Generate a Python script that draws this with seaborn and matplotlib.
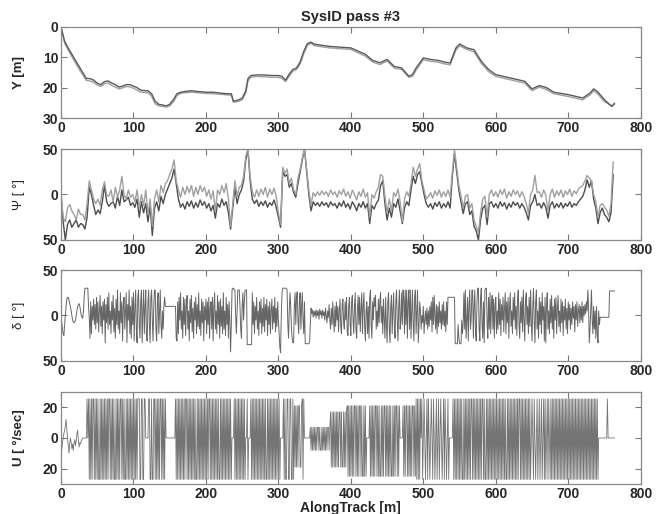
import numpy as np
import matplotlib
matplotlib.use("Agg")
import matplotlib.pyplot as plt
import seaborn as sns

# --- Y [m] : two tracks ---
y_x = [0, 5, 10, 15, 20, 25, 30, 35, 40, 45, 50, 55, 60, 65, 70, 75, 80, 85, 90, 95,
       100, 105, 110, 115, 120, 125, 130, 135, 140, 145, 150, 155, 160, 165, 170, 180, 190, 200, 210, 220,
       230, 235, 238, 245, 250, 255, 258, 262, 270, 280, 290, 300, 305, 310, 315, 320, 325, 330, 335, 340,
       345, 350, 371, 400, 420, 430, 440, 450, 460, 470, 480, 485, 490, 500, 510, 520, 530, 537, 545, 550,
       560, 570, 580, 590, 600, 620, 640, 650, 660, 670, 680, 700, 720, 730, 735, 740, 750, 760, 764]
y_a = [0, 4.7, 7, 9, 11, 13, 15, 17, 17, 17.5, 18.5, 19, 18, 17.8, 18.5, 19, 19.8, 19.5, 19, 19,
       19.5, 20, 20.8, 21, 21, 22, 24.5, 25.5, 25.7, 26, 25.5, 24, 22, 21.5, 21.3, 21, 21.3, 21.5, 21.5, 21.8,
       22, 22, 24.5, 24, 23.5, 21, 17, 16, 15.8, 15.8, 16, 16, 16.3, 17.5, 15.5, 14, 13.5, 11.5, 8, 5.5,
       5, 5.7, 6.4, 6.9, 9, 11, 11.8, 10.7, 13, 13.5, 16.2, 15.7, 13.5, 10.2, 10.7, 11, 11.6, 11.9, 6.9, 5.6,
       6.9, 7.5, 11.3, 14, 15.7, 16.8, 17.9, 20.4, 19.3, 20, 21.5, 22.3, 23.4, 21.8, 20.4, 21.2, 24, 26.2, 25.3]
y_b = [0, 5.3, 7.6, 9.8, 11.9, 13.9, 15.8, 17.6, 17.8, 18.2, 19.2, 19.6, 18.7, 18.5, 19.3, 19.8, 20.4, 20.1, 19.6, 19.7,
       20.2, 20.8, 21.5, 21.6, 21.7, 22.8, 25.3, 26.0, 26.2, 26.4, 26.0, 24.7, 22.6, 21.9, 21.7, 21.5, 21.7, 21.9, 22.0, 22.2,
       22.4, 22.5, 24.8, 24.5, 24.0, 21.8, 17.8, 16.6, 16.3, 16.4, 16.6, 16.6, 17.0, 18.0, 16.2, 14.6, 14.0, 12.2, 8.8, 6.0,
       5.4, 6.2, 6.9, 7.4, 9.6, 11.5, 12.4, 11.2, 13.6, 14.0, 16.6, 16.3, 14.2, 10.8, 11.3, 11.6, 12.2, 12.5, 7.6, 6.2,
       7.4, 8.2, 12.0, 14.7, 16.3, 17.4, 18.5, 21.0, 19.8, 20.6, 22.0, 22.9, 24.0, 22.4, 21.0, 21.9, 24.6, 26.0, 25.0]

# --- Psi [deg] : sampled every 3 m ---
psi_dark = [
    0, -30, -50, -33, -28, -36, -32, -28, -36, -32,
    -33, -38, -25, 8, 0, -12, -22, -17, -21, -8,
    10, -8, -13, -10, -8, -15, -2, -12, 5, -8,
    -6, -3, -12, -9, -14, -5, -25, -8, -20, -10,
    -30, -12, -45, -15, -8, -18, -2, -10, 0, 6,
    12, 18, 28, 12, -5, -14, -10, -16, -8, -13,
    -7, -15, -9, -14, -6, -12, -8, -15, -10, -18,
    -12, -26, -10, -14, -5, -12, -8, -20, -38, -15,
    8, -10, 0, 5, 15, 38, 50, 15, -5, -10,
    -6, -13, -8, -12, -7, -14, -9, -12, -6, -14,
    -25, -36, 25, 20, 22, 8, 12, 2, -3, 12,
    25, 38, 50, 25, 0, -18, -8, -12, -9, -13,
    -8, -12, -9, -14, -8, -12, -10, -15, -9, -13,
    -7, -14, -10, -16, -8, -12, -18, -10, -14, -8,
    -15, -10, -32, -12, -16, -10, -6, 10, 15, -10,
    -28, -15, -25, -10, -14, -5, -18, -32, -15, -8,
    -12, 5, 20, 12, 22, 25, 12, 0, -10, -14,
    -10, -16, -9, -13, -8, -15, -10, -14, -8, -15,
    20, 45, 25, 5, -8, -21, -10, -8, -22, -18,
    -35, -40, -50, -28, -15, -12, -33, -10, -8, -14,
    -10, -15, -8, -13, -9, -16, -10, -14, -8, -12,
    -9, -15, -10, -14, -20, -28, -12, -8, 0, -12,
    -10, -15, -9, -14, -26, -12, -8, -15, -10, -14,
    -9, -15, -10, -13, -8, -14, -10, -12, -8, -5,
    -2, 5, 16, 8, 15, -5, -15, -32, -20, -15,
    -22, -25, -30, -20, 22]
psi_light = [
    0, -25, -30, -15, -11, -18, -22, -28, -16, -22,
    -22, -28, -10, 15, 5, -5, -10, -5, -12, 5,
    14, 0, -2, 5, -8, 8, -3, 5, 20, 0,
    -5, 5, -3, 0, -8, 5, -15, 0, -12, 5,
    -22, -5, -35, -5, 5, -8, 10, 2, 12, 15,
    22, 28, 38, 15, 5, -3, 8, 0, 9, 2,
    10, -2, 8, 0, 10, 3, 8, -2, 5, -5,
    4, -18, 5, 0, 10, 2, 12, -5, -35, -10,
    15, -2, 8, 10, 20, 42, 50, 20, 3, -3,
    5, -2, 6, 0, 8, -3, 6, 0, 7, -2,
    -20, -33, 30, 23, 28, 12, 18, 5, 0, 18,
    28, 40, 50, 28, 5, -12, 2, -2, 3, -1,
    4, 0, 3, -2, 5, 0, 3, -3, 4, 0,
    6, -2, 3, -4, 5, 0, -6, 3, -2, 6,
    -3, 2, -25, 0, -4, 3, 8, 22, 20, -2,
    -20, -5, -18, 2, -2, 6, -8, -30, -5, 3,
    -2, 12, 30, 20, 28, 34, 15, 5, -5, -2,
    2, -4, 4, -1, 5, -3, 3, -2, 5, -3,
    25, 49, 30, 10, -2, -15, -2, 0, -15, -10,
    -28, -35, -42, -20, -5, -2, -25, 0, 5, -2,
    3, -3, 5, 0, 6, -4, 3, -2, 5, 0,
    4, -3, 3, -2, -10, -20, 0, 5, 21, 2,
    3, -3, 5, -1, -18, 0, 6, -3, 4, -1,
    5, -3, 4, 0, 6, -2, 4, 1, 6, 8,
    10, 15, 21, 18, 15, 0, -8, -25, -12, -10,
    -14, -17, -24, -10, 36]

# --- delta [deg] : rudder, every 1 m ---
delta = [
    0, -8, -15, -20, -22, -10, 0, 10, 18, 20, 20, 17, 13, 10, 5, 0, -5, -7, -8, -7,
    -5, 0, 5, 10, 12, 13, 10, 5, 0, -2, -3, 5, 20, 30, 30, 30, 30, 30, 10, -2,
    -25, 15, -20, 10, -5, 18, -10, 12, -15, 20, -8, 15, -18, 5, 22, -12, 10, -20, 15, -5,
    18, -30, 12, -8, 20, -15, 25, -10, 5, -20, 15, -5, 22, -18, 8, -25, 18, -10, 28, -15,
    5, -20, 25, -8, 15, -28, 10, 20, -15, 5, 25, -30, 12, -5, 28, -20, 10, -25, 20, -10,
    25, -28, 8, 28, -15, -30, 20, 28, -10, -25, 15, 28, -30, 5, 28, -20, 10, 28, -25, -28,
    15, 28, -10, -30, 20, 28, -5, -28, 10, 28, 28, -15, -28, 15, 25, -20, 5, 28, -10, -25,
    5, -15, 10, 20, 10, 10, 10, 10, 10, 10, 10, 10, 10, 10, 10, 10, 10, 10, 10, -25,
    -28, 15, -20, 20, -5, 25, -15, 5, -25, 20, -10, 18, -22, 10, 22, -15, 5, -28, 18, -8,
    22, -18, 8, -25, 15, -5, 20, -20, 12, -12, 25, -15, 5, -22, 18, -8, 15, -28, 10, -5,
    18, -20, 15, -10, 20, -25, 8, 15, -15, 20, -28, 10, 25, -15, 5, -20, 22, -10, 15, -25,
    18, -12, 10, -20, 25, -15, 5, -22, 20, -10, 12, -25, 15, -5, -40, -10, 28, 30, 30, 28,
    28, 0, -20, 5, 28, 28, 28, 10, -15, -25, 10, 25, -5, 15, 28, 28, 28, -32, -32, -32,
    -32, -32, -32, -32, 25, -10, 15, -20, 10, -5, 20, -15, 5, -22, 15, -8, 18, -20, 8, -12,
    20, -18, 12, -5, 18, -22, 10, -10, 15, -20, 5, 18, -15, 10, -8, 20, -18, 8, -12, 15,
    -5, -20, -35, -41, 0, 25, 30, 30, 30, 30, 30, 30, 28, -10, -25, 5, 25, 10, -15, -25,
    -30, -30, 10, 25, -10, 20, 26, -5, -20, 15, 25, -15, 10, 25, -5, -20, 15, -31, -31, -31,
    -31, -31, -31, -30, -10, 8, 2, 6, -2, 5, 0, 5, -3, 6, 0, 5, -4, 7, 1, 5,
    -3, 6, 0, 4, -5, 8, 0, -8, 5, -2, 12, -5, -15, 8, -10, 15, -5, -18, 10, -12,
    15, -5, 10, -18, 5, 18, -12, -20, 12, 18, -8, -15, 15, -5, 20, -18, -22, 10, 20, -10,
    -22, 15, 22, -5, -20, 10, 25, -15, -25, 5, 22, -10, 20, -18, 8, 25, -20, 10, 25, -12,
    -28, 5, 15, -20, 10, -25, 20, 28, -10, -25, 15, -5, 20, 10, 22, -15, 5, -12, 18, -8,
    15, 25, -8, 10, -20, 18, -5, -25, 20, -10, -30, 15, 25, -15, -30, 10, 22, -20, 5, 25,
    -12, -25, 15, 28, -5, -28, 10, 28, -15, -5, 25, -10, 28, 20, -20, 28, -10, 28, -25, 15,
    28, -15, 28, -25, 5, 28, -10, -28, 20, 28, -20, 5, 28, -30, -10, 15, 5, -15, 0, -8,
    10, -20, -5, 5, -10, 8, -15, 5, -12, 10, -5, 15, -18, 20, -10, 22, 0, -15, 12, -20,
    10, -12, 15, -8, 5, -15, 12, -10, 15, -12, 5, -18, 15, -10, 20, 20, 20, 20, 20, 20,
    20, 20, 20, 20, -31, -31, -31, -31, -10, -25, -31, -31, -31, -5, -20, -8, 25, -15, 28, -25,
    -5, 20, -28, 10, 28, -15, -5, 28, 28, -25, 10, 28, -20, -28, 15, 30, 30, -15, -28, 20,
    30, -10, -25, 15, -30, 28, 30, 30, -10, -25, 20, -15, 25, -20, 10, 22, -15, 18, -25, 10,
    20, -20, 5, -15, 25, -10, 18, -22, 12, -5, 20, -18, 8, 25, -20, 15, -8, 20, -25, 10,
    25, -12, 5, -20, 20, -5, 25, -15, 10, -22, 18, 28, -10, -25, 15, -8, 20, -18, 28, -5,
    -28, 15, 25, -10, 10, -20, 20, -12, 28, -8, -28, 10, 30, -5, -30, 15, 28, -15, 5, -25,
    20, -10, 15, -20, 25, -5, 10, -28, 20, -30, 12, 25, -15, 5, -20, 18, -8, 22, -15, 10,
    -25, 18, -5, 20, -20, 8, 22, -12, 5, -18, 18, -8, 15, -22, 10, -5, 18, -15, 8, -20,
    15, -5, 12, -15, 8, -10, 15, -3, 10, -18, 12, -5, 15, -12, 5, 12, -8, 10, -5, 15,
    -8, 10, 0, 12, 2, 15, 5, 28, 10, -30, -15, 5, 28, -5, -20, 10, -15, 5, -25, 10,
    -20, -30, 5, -10, -2, -2, -2, -2, -2, -2, -2, -2, -2, -2, -2, -2, -2, 27, 27, 27,
    27, 27, 27, 27, 27]

# --- U [deg/sec] : first 36 m as values, then bang-bang levels coded per metre ---
u_head = [-12, -8, -3, 0, 3, 5, 8, 12, 6, 0, -5, -10, -4, 0, -3, -7, -4, -8, -3, -1,
          -5, -2, 3, 5, -1, -6, -3, -4, -2, -1, 0, 0, 0, 0, 0, 0]
u_levels = {"H": 25.5, "L": -27, "0": 0, "a": 7, "b": -8, "c": 17, "d": -19, "e": 21, "f": -25}
u_code = [
    "H0HL",
    "HLHLHHLHLH", "LHLLHLHLHL", "HLHLHLHHLH", "LHLHLLHLHL", "HLHHLHLHLL", "HLHLHLHLHL",
    "HLHLHLHHHL", "LHHLLHH000", "0HHLLHLLHH", "LHLHLHLHHL", "HLHLH00000", "00000000HL",
    "HLHLHLHLHL", "HLHHLHLHLH", "LHLHLHLLHL", "HLHLHLHLHL", "HLHLHHLHLH", "LHLHLHLHLL",
    "HLHLHLHLHL", "HLHLHL000H", "LHLHLHLHLH", "LHLHL00HL0", "00HLHLHLHL", "HLHLHLHLHL",
    "HLHLLHLHLH", "LHLHLHLHLH", "LHL0000HLH", "LLHHLLHHLL", "HLedededee", "ddeHLH0000",
    "0000ababab", "ababaababb", "ababababaa", "bacdcdcdcd", "cdcdccdcdd", "cdcdcefefe",
    "fefefeefef", "efeefeffef", "ef0000efef", "efefeefefe", "ffefefeefe", "fefefeffef",
    "efeefefe00", "00efefeefe", "fefefeefef", "HLHLHLH0HL", "0H0L0HLH0L", "0H0LH0L0HL",
    "0HL0H0L0HL", "H0L0HL0000", "0HLHLHLHLH", "LHLHLLHLHL", "HLHLHLHHLH", "LHLHLHLHLH",
    "LHHLHLLHLH", "LHLHLHLHLH", "LHLHLHLHLH", "LHLHLLHLHL", "HLHLHLHLHL", "HLHHLHLHLH",
    "LHLHLHLHL0", "H0LH0L0HL0", "HL0HL0HLHL", "0HLH0LHLHL", "HLHLHLHLHL", "HLHLHLHLHL",
    "HLHLHLHLHL", "HLHLHLHLHL", "HLHLHLHLHL", "HLHLHLHLHL", "HL00000000", "0000H00000",
    "00000",
]
u_vals = u_head + [u_levels[c] for c in "".join(u_code)]

x_ticks = [0, 100, 200, 300, 400, 500, 600, 700, 800]

sns.set_style("ticks")
plt.rcParams["font.family"] = ["Liberation Sans", "DejaVu Sans"]

fig = plt.figure(figsize=(6.71, 5.14), dpi=100)
boxes = [(0.0909, 0.7704, 0.864, 0.1771),
         (0.0909, 0.5331, 0.864, 0.1770),
         (0.0909, 0.2977, 0.864, 0.1770),
         (0.0909, 0.0584, 0.864, 0.1790)]
axes = [fig.add_axes(b) for b in boxes]

dark = "#4d4d4d"
light = "#a0a0a0"

ax = axes[0]
sns.lineplot(x=y_x, y=y_b, ax=ax, color=light, linewidth=1.0, estimator=None)
sns.lineplot(x=y_x, y=y_a, ax=ax, color="#5a5a5a", linewidth=1.0, estimator=None)
ax.set_ylim(30, 0)
ax.set_yticks([0, 10, 20, 30])
ax.set_ylabel("Y [m]", fontweight="bold")
ax.set_title("SysID pass #3", fontweight="bold", fontsize=10.5, pad=4)

psi_x = np.arange(len(psi_dark)) * 3
psi_xl = np.arange(len(psi_light)) * 3
ax = axes[1]
sns.lineplot(x=psi_x, y=psi_dark, ax=ax, color=dark, linewidth=1.0, estimator=None)
sns.lineplot(x=psi_xl, y=psi_light, ax=ax, color=light, linewidth=1.0, estimator=None)
ax.set_ylim(-50, 50)
ax.set_yticks([-50, 0, 50])
ax.set_yticklabels(["50", "0", "50"])
ax.set_ylabel("Ψ [ °]")

ax = axes[2]
sns.lineplot(x=np.arange(len(delta)), y=delta, ax=ax, color="#666666", linewidth=0.7, estimator=None)
ax.set_ylim(-50, 50)
ax.set_yticks([-50, 0, 50])
ax.set_yticklabels(["50", "0", "50"])
ax.set_ylabel("δ [ °]")

ax = axes[3]
sns.lineplot(x=np.arange(len(u_vals)), y=u_vals, ax=ax, color="#747474", linewidth=0.6, estimator=None)
ax.set_ylim(-30, 30)
ax.set_yticks([-20, 0, 20])
ax.set_yticklabels(["20", "0", "20"])
ax.set_ylabel("U [ °/sec]", fontweight="bold")
ax.set_xlabel("AlongTrack [m]", fontweight="bold", labelpad=0)

for ax in axes:
    ax.set_xlim(0, 800)
    ax.set_xticks(x_ticks)
    ax.tick_params(direction="in", top=True, right=True, length=4, width=0.8,
                   color="#777777", labelsize=10, pad=2)
    for lab in ax.get_xticklabels() + ax.get_yticklabels():
        lab.set_fontweight("bold")
    for sp in ax.spines.values():
        sp.set_color("#888888")
        sp.set_linewidth(0.9)
    ax.yaxis.set_label_coords(-0.062, 0.5)
    ax.yaxis.label.set_fontsize(9.5)

fig.savefig("out.png", dpi=100)
